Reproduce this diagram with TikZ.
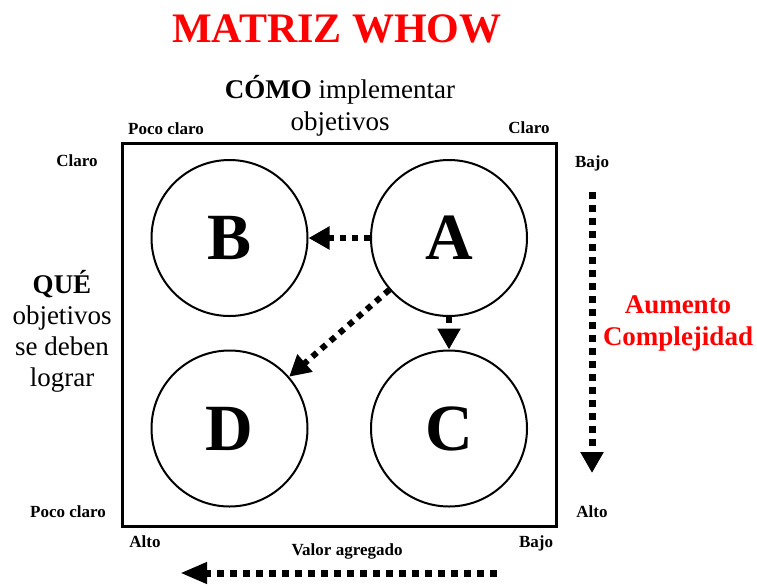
\documentclass[tikz,border=0pt]{standalone}
\usepackage{fontspec}
\setmainfont{Liberation Serif}
\usetikzlibrary{arrows.meta}
\definecolor{tred}{RGB}{255,0,0}
\begin{document}
\begin{tikzpicture}[x=1pt,y=-1pt,
  circ/.style={circle, draw, line width=2pt, minimum size=156pt, inner sep=0pt, font=\fontsize{66}{66}\selectfont\bfseries},
  dotarrow/.style={line width=6pt, dash pattern=on 6pt off 6pt, -{Triangle[length=21pt,width=22pt]}},
  lbl/.style={font=\fontsize{17}{20}\selectfont\bfseries, anchor=base, inner sep=0pt},
  big/.style={font=\fontsize{27}{31}\selectfont, align=center, anchor=base, inner sep=0pt},
]
\useasboundingbox (0,0) rectangle (757,587);
% title
\node[font=\fontsize{42}{42}\selectfont\bfseries, text=tred, anchor=base, inner sep=0pt] (title) at (337,42) {MATRIZ WHOW};
% frame
\node[draw, line width=3pt, minimum width=434pt, minimum height=383pt, inner sep=0pt] (frame) at (339,334.5) {};
% circles
\node[circ] (A) at (449,238) {A};
\node[circ] (B) at (229.5,238) {B};
\node[circ] (C) at (449,428.5) {C};
\node[circ] (D) at (229.5,428.5) {D};
% arrows between circles
\draw[dotarrow] (A) -- (B);
\draw[dotarrow] (A) -- (C);
\draw[dotarrow] (A) -- (D);
% top text (anchor at baseline of last line)
\node[big, font=\fontsize{27}{32}\selectfont] (como) at (340,130) {\textbf{CÓMO} implementar\\objetivos};
% left text
\node[big] (que) at (62,386) {\textbf{QUÉ}\\objetivos\\se deben\\lograr};
% red right text
\node[big, font=\fontsize{27}{32}\selectfont\bfseries, text=tred] (aum) at (678,345) {Aumento\\Complejidad};
% small labels
\node[lbl] (pc1) at (166,134) {Poco claro};
\node[lbl] (cl1) at (529,133) {Claro};
\node[lbl] (cl2) at (77,166) {Claro};
\node[lbl] (pc2) at (68,517) {Poco claro};
\node[lbl] (bj1) at (592,167) {Bajo};
\node[lbl] (al1) at (592,517) {Alto};
\node[lbl] (al2) at (145,547) {Alto};
\node[lbl] (bj2) at (536,547) {Bajo};
\node[lbl] (va) at (347,555) {Valor agregado};
% long arrows
\coordinate (r1) at (592,192);
\coordinate (r2) at (592,473);
\coordinate (b1) at (497,573);
\coordinate (b2) at (180,573);
\draw[dotarrow, line width=7pt, dash pattern=on 7pt off 6pt] (r1) -- (r2);
\draw[dotarrow, line width=7pt, dash pattern=on 7pt off 6pt, -{Triangle[length=27pt,width=20pt]}] (b1) -- (b2);
\end{tikzpicture}
\end{document}
